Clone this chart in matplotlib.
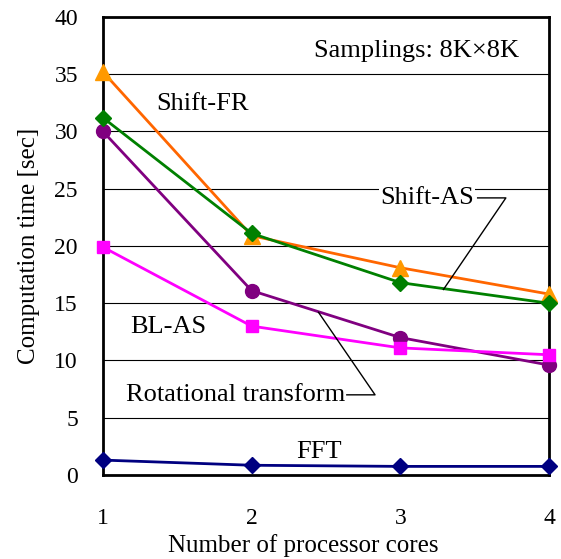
import matplotlib
matplotlib.use("Agg")
import matplotlib.pyplot as plt

plt.rcParams["font.family"] = ["Liberation Serif", "DejaVu Serif"]

cores = [1, 2, 3, 4]
shift_fr = [35.2, 20.9, 18.1, 15.8]
shift_as = [31.2, 21.1, 16.8, 15.0]
rot_tr = [30.0, 16.1, 12.0, 9.6]
bl_as = [19.9, 13.0, 11.1, 10.5]
fft = [1.3, 0.85, 0.75, 0.75]

fig = plt.figure(figsize=(5.61, 5.59), dpi=100)
ax = fig.add_axes([0.1836, 0.1503, 0.795, 0.8193])

ax.plot(cores, shift_fr, color="#FF6600", lw=2, marker="^", ms=11,
        mfc="#FF9900", mec="#FF9900", clip_on=False, zorder=3)
ax.plot(cores, shift_as, color="#008000", lw=2, marker="D", ms=8,
        clip_on=False, zorder=4)
ax.plot(cores, rot_tr, color="#800080", lw=2, marker="o", ms=10,
        clip_on=False, zorder=3)
ax.plot(cores, bl_as, color="#FF00FF", lw=2, marker="s", ms=9,
        clip_on=False, zorder=3)
ax.plot(cores, fft, color="#000080", lw=2, marker="D", ms=8,
        clip_on=False, zorder=3)

ax.set_xlim(1, 4)
ax.set_ylim(0, 40)
ax.set_xticks(cores)
ax.set_yticks(range(0, 41, 5))
ax.grid(axis="y", color="black", lw=0.8)
ax.set_axisbelow(True)
ax.tick_params(axis="both", length=0, labelsize=17)
ax.tick_params(axis="x", pad=24)
ax.tick_params(axis="y", pad=18)
for s in ax.spines.values():
    s.set_linewidth(2)

ax.set_xlabel("Number of processor cores", fontsize=18)
ax.xaxis.set_label_coords(0.45, -0.128)
ax.set_ylabel("Computation time [sec]", fontsize=18, labelpad=10)

fs = 19
ax.text(3.11, 37.0, "Samplings: 8K×8K", fontsize=fs, ha="center", va="center")
ax.text(1.67, 32.4, "Shift-FR", fontsize=fs, ha="center", va="center")
ax.text(3.18, 24.2, "Shift-AS", fontsize=fs, ha="center", va="center",
        bbox=dict(fc="white", ec="none", pad=1), zorder=5)
ax.plot([3.52, 3.71, 3.29], [24.2, 24.2, 16.2], color="black", lw=1, zorder=5)
ax.text(1.44, 12.9, "BL-AS", fontsize=fs, ha="center", va="center")
ax.text(1.89, 7.0, "Rotational transform", fontsize=fs, ha="center", va="center")
ax.plot([2.64, 2.83, 2.45], [7.0, 7.0, 14.2], color="black", lw=1, zorder=5)
ax.text(2.45, 2.05, "FFT", fontsize=fs, ha="center", va="center")

fig.savefig("out.png", dpi=100)
